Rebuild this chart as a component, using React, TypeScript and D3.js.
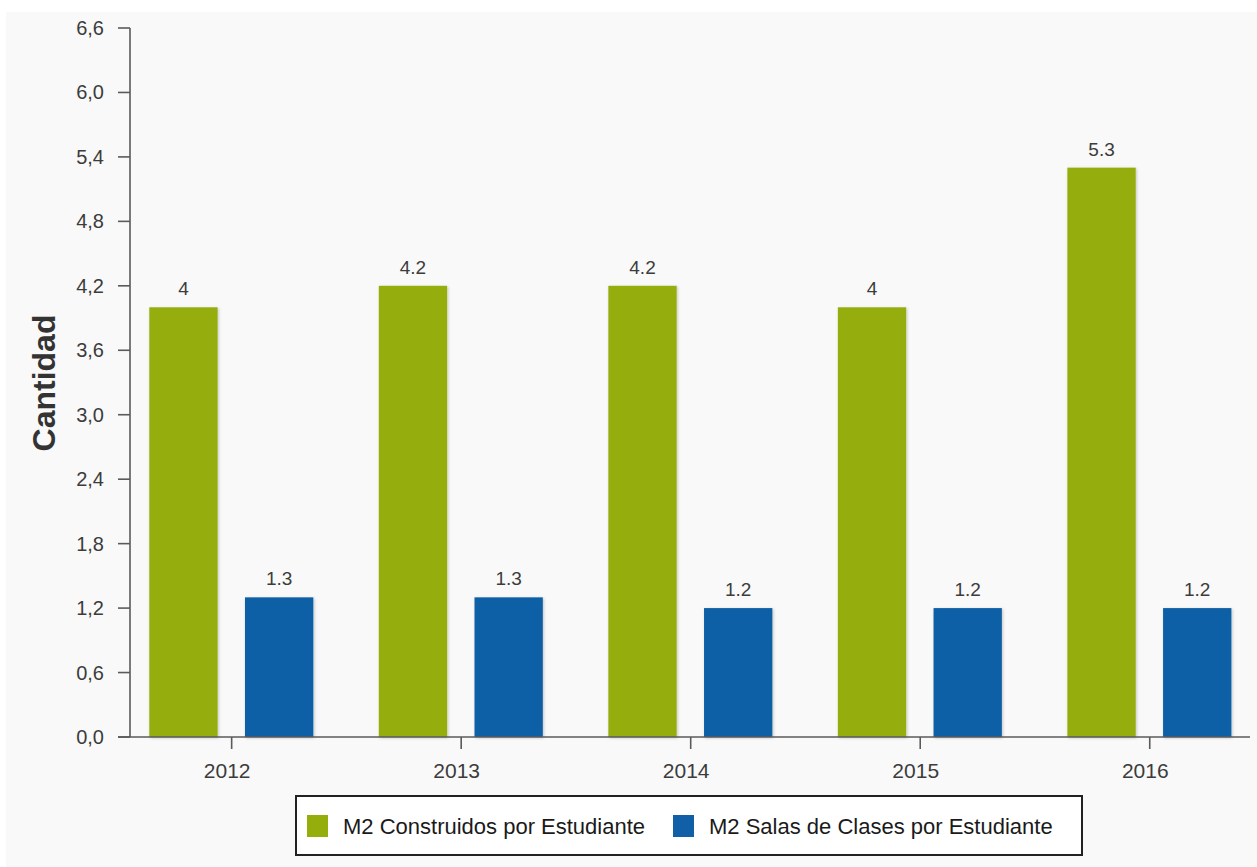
import React from "react";
import * as d3 from "d3";

const years = ["2012", "2013", "2014", "2015", "2016"];
const seriesNames = ["M2 Construidos por Estudiante", "M2 Salas de Clases por Estudiante"];
const construidos = [4, 4.2, 4.2, 4, 5.3];
const salas = [1.3, 1.3, 1.2, 1.2, 1.2];
const seriesColors = ["#95ae0b", "#115fa6"];
const yTicks = [0, 0.6, 1.2, 1.8, 2.4, 3.0, 3.6, 4.2, 4.8, 5.4, 6.0, 6.6];
const yLabel = "Cantidad";

const W = 1257;
const H = 867;

export default function App() {
  const y = d3.scaleLinear().domain([0, 6.6]).range([737, 28]);
  const x0 = d3.scaleBand().domain(years).range([116.9, 1264.5]).padding(0);
  const x1 = d3.scaleBand().domain(seriesNames).range([32.4, 196.4]).paddingInner(0.286);
  const values = [construidos, salas];
  const fmtTick = (v: number) => d3.format(".1f")(v).replace(".", ",");
  const font = "Arial, 'Liberation Sans', sans-serif";
  const textColor = "#3c3c3c";
  const axisColor = "#5a5a5a";

  return (
    <div style={{ position: "absolute", left: 0, top: 0 }}>
      <svg width={W} height={H} style={{ display: "block" }}>
        <defs>
          <filter id="shadow" x="-20%" y="-20%" width="140%" height="140%">
            <feDropShadow dx="1" dy="1" stdDeviation="1.6" floodColor="#000" floodOpacity="0.22" />
          </filter>
        </defs>
        <rect x={0} y={0} width={W} height={H} fill="#ffffff" />
        <rect x={6} y={12} width={W - 6} height={H - 12} fill="#f9f9f9" />

        {/* bars */}
        {years.map((yr, i) => (
          <g key={yr} transform={`translate(${x0(yr)},0)`}>
            {seriesNames.map((s, k) => {
              const v = values[k][i];
              return (
                <g key={s}>
                  <rect
                    x={x1(s)}
                    y={y(v)}
                    width={x1.bandwidth()}
                    height={y(0) - y(v)}
                    fill={seriesColors[k]}
                    filter="url(#shadow)"
                  />
                  <text
                    x={(x1(s) as number) + x1.bandwidth() / 2}
                    y={y(v) - 12}
                    textAnchor="middle"
                    fontFamily={font}
                    fontSize={19}
                    fill={textColor}
                  >
                    {String(v)}
                  </text>
                </g>
              );
            })}
          </g>
        ))}

        {/* y axis */}
        <line x1={130} x2={130} y1={y(6.6)} y2={y(0)} stroke={axisColor} strokeWidth={1.6} />
        {yTicks.map((t) => (
          <g key={t}>
            <line x1={118} x2={130} y1={y(t)} y2={y(t)} stroke={axisColor} strokeWidth={1.6} />
            <text
              x={104}
              y={y(t)}
              dy="0.35em"
              textAnchor="end"
              fontFamily={font}
              fontSize={20}
              fill={textColor}
            >
              {fmtTick(t)}
            </text>
          </g>
        ))}

        {/* x axis */}
        <line x1={118} x2={1250} y1={y(0)} y2={y(0)} stroke={axisColor} strokeWidth={1.6} />
        {years.map((yr) => {
          const cx = (x0(yr) as number) + x0.bandwidth() / 2;
          return (
            <g key={yr}>
              <line x1={cx} x2={cx} y1={y(0)} y2={y(0) + 12} stroke={axisColor} strokeWidth={1.6} />
              <text
                x={cx - 4.5}
                y={778}
                textAnchor="middle"
                fontFamily={font}
                fontSize={21}
                fill={textColor}
              >
                {yr}
              </text>
            </g>
          );
        })}

        {/* y label */}
        <text
          transform="translate(55,383) rotate(-90)"
          textAnchor="middle"
          fontFamily={font}
          fontSize={32}
          fontWeight="bold"
          fill="#333"
        >
          {yLabel}
        </text>

        {/* legend */}
        <rect x={296} y={796} width={786} height={59} fill="#ffffff" stroke="#222" strokeWidth={2} />
        {seriesNames.map((s, k) => {
          const lx = k === 0 ? 307 : 673;
          return (
            <g key={s}>
              <rect x={lx} y={815} width={21} height={22} fill={seriesColors[k]} />
              <text
                x={lx + 36}
                y={834}
                fontFamily={font}
                fontSize={22}
                fill="#1a1a1a"
              >
                {s}
              </text>
            </g>
          );
        })}
      </svg>
    </div>
  );
}
